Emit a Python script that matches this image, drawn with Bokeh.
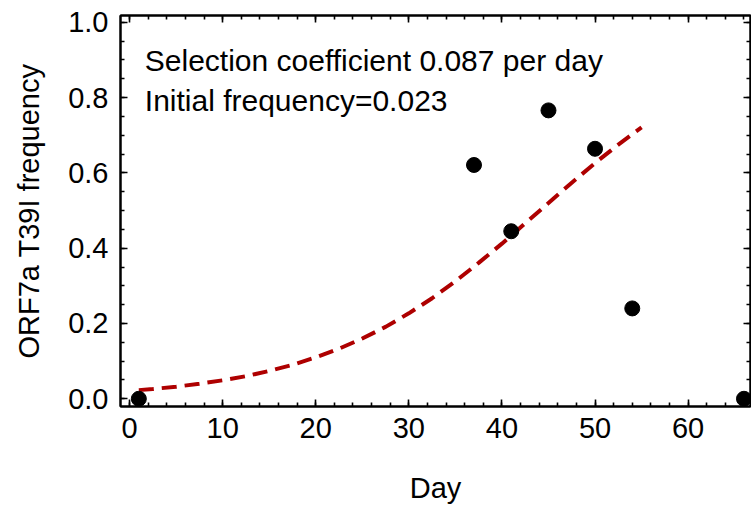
from bokeh.plotting import figure
from bokeh.models import LinearAxis, FixedTicker, PrintfTickFormatter, Label, Range1d
from bokeh.embed import file_html
from bokeh.resources import INLINE

# Observed data
days = [1, 37, 41, 45, 50, 54, 66]
freq = [0.0, 0.621, 0.445, 0.766, 0.664, 0.24, 0.0]

# Fitted selection curve
fit_days = [1, 2.5, 5, 7.5, 10, 12.5, 15, 17.5, 20, 22.5, 25, 27.5, 30, 32.5,
            35, 37.5, 40, 42.5, 45, 47.5, 50, 52.5, 55]
fit_freq = [0.023, 0.026, 0.032, 0.040, 0.049, 0.060, 0.074, 0.090, 0.110, 0.133,
            0.160, 0.191, 0.227, 0.267, 0.312, 0.361, 0.412, 0.466, 0.520, 0.574,
            0.626, 0.675, 0.721]

x_ticks = [0, 10, 20, 30, 40, 50, 60]
x_minor = [i * 2 for i in range(0, 34)]
y_ticks = [0.0, 0.2, 0.4, 0.6, 0.8, 1.0]
y_minor = [round(i * 0.05, 2) for i in range(0, 21)]

title_lines = ["Selection coefficient 0.087 per day", "Initial frequency=0.023"]
x_label = "Day"
y_label = "ORF7a T39I frequency"

FONT = "Liberation Sans"
FS = "29px"

p = figure(width=751, height=508, output_backend="svg", toolbar_location=None,
           x_range=Range1d(-0.97, 66.7), y_range=Range1d(-0.0205, 1.018),
           min_border_left=120, min_border_right=1, min_border_top=15,
           min_border_bottom=102, x_axis_location=None, y_axis_location=None)
p.grid.visible = False
p.outline_line_color = "black"
p.outline_line_width = 2
p.background_fill_color = "white"
p.border_fill_color = "white"


def style(ax, ticks, minor, show_labels):
    ax.ticker = FixedTicker(ticks=ticks, minor_ticks=minor)
    ax.axis_line_color = "black"
    ax.axis_line_width = 2
    ax.major_tick_in = 7
    ax.major_tick_out = 0
    ax.minor_tick_in = 4
    ax.minor_tick_out = 0
    ax.major_tick_line_width = 1.6
    ax.minor_tick_line_width = 1.6
    ax.major_tick_line_color = "black"
    ax.minor_tick_line_color = "black"
    if show_labels:
        ax.major_label_text_font = FONT
        ax.major_label_text_font_size = FS
        ax.major_label_text_color = "black"
        ax.axis_label_text_font = FONT
        ax.axis_label_text_font_size = FS
        ax.axis_label_text_font_style = "normal"
        ax.axis_label_text_color = "black"
    else:
        ax.major_label_text_font_size = "0px"
        ax.major_label_standoff = 0
        ax.major_label_text_alpha = 0


xb = LinearAxis(axis_label=x_label)
style(xb, x_ticks, x_minor, True)
xb.major_label_standoff = 11
xb.axis_label_standoff = 31
p.add_layout(xb, "below")

yl = LinearAxis(axis_label=y_label, formatter=PrintfTickFormatter(format="%.1f"))
style(yl, y_ticks, y_minor, True)
yl.major_label_standoff = 12
yl.axis_label_standoff = 20
p.add_layout(yl, "left")

xt = LinearAxis()
style(xt, x_ticks, x_minor, False)
p.add_layout(xt, "above")

yr = LinearAxis()
style(yr, y_ticks, y_minor, False)
p.add_layout(yr, "right")

p.line(fit_days, fit_freq, line_color="#AE0000", line_width=4, line_dash="15 8")
p.scatter(days, freq, size=15, fill_color="black", line_color="black")

for i, t in enumerate(title_lines):
    p.add_layout(Label(x=1.64, y=0.8985 - i * 0.1065, text=t, text_font=FONT,
                       text_font_size="30px", text_baseline="alphabetic",
                       text_color="black"))

open("out.html", "w").write(file_html(p, INLINE))
